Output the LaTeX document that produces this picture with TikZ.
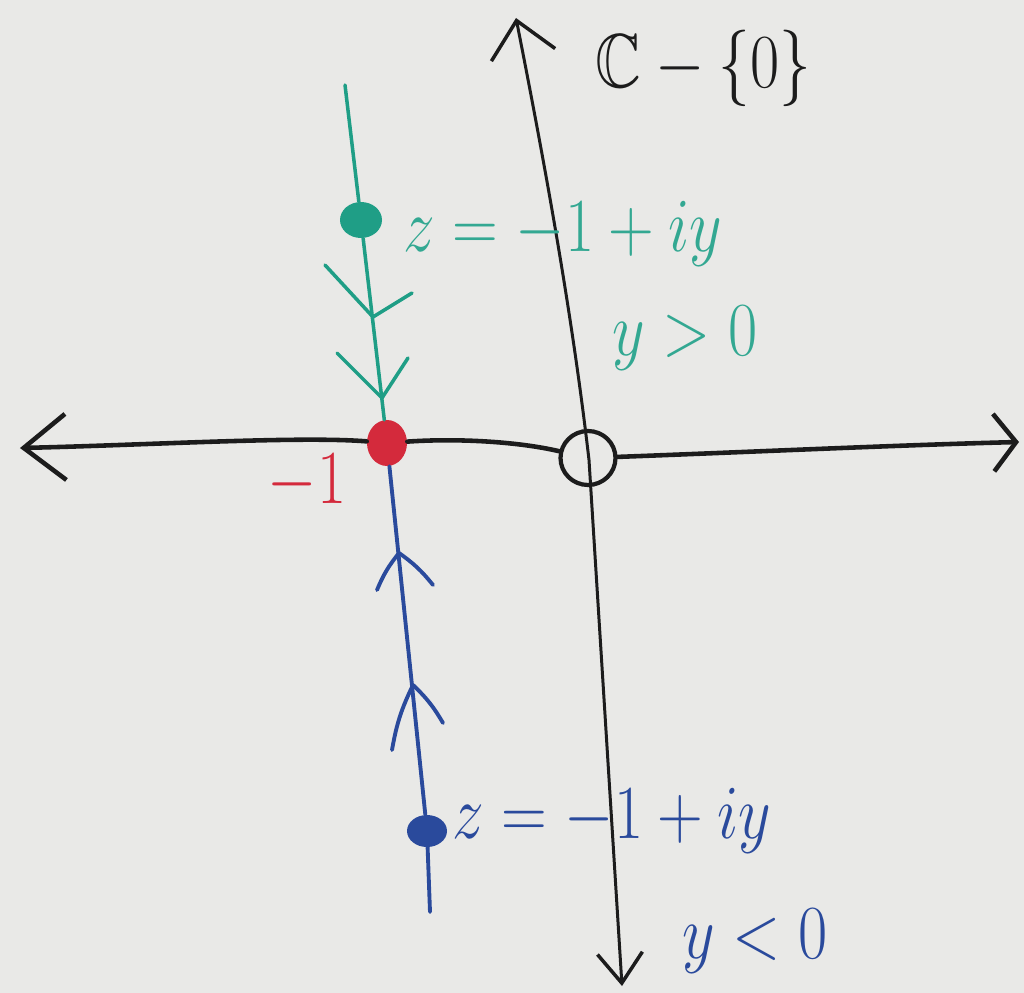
\documentclass[tikz,border=0pt]{standalone}
\usepackage{graphicx}
\usepackage{amssymb}
\usetikzlibrary{arrows.meta,shapes.geometric}
\definecolor{board}{HTML}{E9E9E7}
\definecolor{ink}{HTML}{1C1C1C}
\definecolor{mgreen}{HTML}{1F9E86}
\definecolor{mgreentext}{HTML}{33A892}
\definecolor{mblue}{HTML}{2A4A9C}
\definecolor{mred}{HTML}{D42A3C}
\newcommand{\bigtxt}[1]{\scalebox{1.45}[1.75]{\Huge #1}}
\begin{document}
\begin{tikzpicture}[x=0.02cm,y=-0.02cm,
  axish/.style={draw=ink, line width=2.6pt, line cap=round, line join=round},
  axisv/.style={draw=ink, line width=1.7pt, line cap=round, line join=round},
  greenline/.style={draw=mgreen, line width=2pt, line cap=round, line join=round},
  blueline/.style={draw=mblue, line width=2.2pt, line cap=round, line join=round},
  dot/.style={ellipse, inner sep=0pt},
  lbl/.style={inner sep=0pt},
]
\fill[board] (0,0) rectangle (1024,993);
\useasboundingbox (0,0) rectangle (1024,993);

% named points
\coordinate (hl) at (20,448);
\coordinate (hr) at (1019,442);
\coordinate (vt) at (516,18);
\coordinate (vmid) at (589,460);
\coordinate (vb) at (622,986);
\coordinate (gtop) at (345,85);
\coordinate (bbot) at (430,912);

% nodes
\node[dot, draw=ink, line width=2.4pt, minimum width=1.1cm, minimum height=1.08cm] (o) at (588,458) {};
\node[dot, fill=mred, minimum width=0.8cm, minimum height=0.92cm] (rdot) at (387,443) {};
\node[dot, fill=mgreen, minimum width=0.84cm, minimum height=0.72cm] (gdot) at (361,220) {};
\node[dot, fill=mblue, minimum width=0.8cm, minimum height=0.64cm] (bdot) at (427,831) {};

% vertical axis
\draw[axisv, {Straight Barb[length=0.7cm,width=1.3cm,line width=2pt]}-{Straight Barb[length=0.6cm,width=0.9cm,line width=2pt]}]
  (vt) .. controls (545,165) and (572,313) .. (vmid) .. controls (600,635) and (611,810) .. (vb);

% horizontal axis
\draw[axish, {Straight Barb[length=0.84cm,width=1.32cm]}-] (hl) .. controls (150,445) and (300,436) .. (rdot);
\draw[axish] (rdot) .. controls (460,438) and (520,442) .. (o);
\draw[axish, -{Straight Barb[length=0.45cm,width=1.15cm]}] (o) .. controls (750,452) and (900,445) .. (hr);

% green ray
\draw[greenline] (gtop) -- (gdot) -- (rdot);
\draw[greenline] (325,265) -- (373,317) -- (412,293);
\draw[greenline] (337,353) -- (382,398) -- (408,358);

% blue ray
\draw[blueline] (rdot) -- (bdot) -- (bbot);
\draw[blueline] (377,590) to[bend left=8] (399,553) to[bend left=8] (433,585);
\draw[blueline] (392,750) to[bend left=8] (413,685) to[bend left=8] (443,723);

% labels
\node[lbl, text=ink] (cset) at (703,68) {\bigtxt{$\mathbb{C}-\{0\}$}};
\node[lbl, text=mgreentext, anchor=base west] (geq) at (403,252) {\bigtxt{$z=-1+iy$}};
\node[lbl, text=mgreentext, anchor=base west] (gcond) at (612,355) {\bigtxt{$y>0$}};
\node[lbl, text=mred] (m1) at (307,482) {\bigtxt{$-1$}};
\node[lbl, text=mblue, anchor=base west] (beq) at (452,838) {\bigtxt{$z=-1+iy$}};
\node[lbl, text=mblue, anchor=base west] (bcond) at (682,958) {\bigtxt{$y<0$}};
\end{tikzpicture}
\end{document}
